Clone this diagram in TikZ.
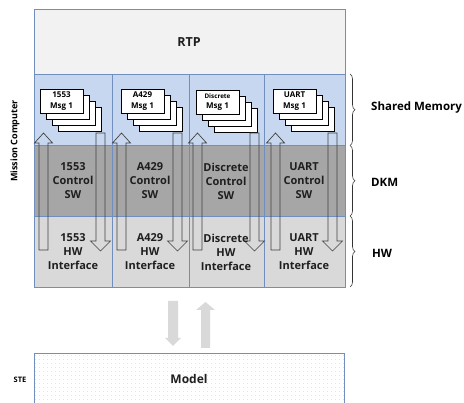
\documentclass[tikz,border=0pt]{standalone}
\usepackage{fontspec}
\setmainfont{Open Sans}
\usetikzlibrary{decorations.pathreplacing,patterns.meta}
\definecolor{mcblue}{RGB}{112,142,190}
\definecolor{rtpfill}{RGB}{242,242,242}
\definecolor{shmfill}{RGB}{198,215,239}
\definecolor{dkmfill}{RGB}{166,166,166}
\definecolor{hwfill}{RGB}{217,217,217}
\definecolor{bigarr}{RGB}{217,217,217}
\definecolor{dotblue}{RGB}{170,195,228}
\tikzset{
  mcline/.style={draw=mcblue,line width=0.8pt},
  msgbox/.style={draw=black,fill=white,line width=0.7pt},
  harrow/.style={draw=black!75,line width=0.7pt},
  bigarrow/.style={fill=bigarr},
  bracestyle/.style={draw=black!80,line width=0.6pt,decorate,decoration={brace,amplitude=5pt}},
  celltext/.style={font=\bfseries\fontsize{11}{14}\selectfont,align=center,text=black!88,inner sep=0pt},
  msgtext/.style={font=\bfseries\fontsize{8}{10.5}\selectfont,align=center,inner sep=0pt},
  sidetext/.style={font=\bfseries\fontsize{11.5}{13}\selectfont,anchor=west,inner sep=0pt},
}
\newcommand\msgstack[4]{%
  \foreach \k in {3,2,1,0} {\draw[msgbox] ({#1+6*\k},{#2+6*\k}) rectangle ++(43,24);}
  \node[msgtext] (#4) at ({#1+21.5},{#2+12}) {#3};
}
\newcommand\uparr[1]{%
  \draw[harrow] (#1,250) -- (#1,143) -- ({#1-4.5},143) -- ({#1+4.5},133) -- ({#1+13.5},143) -- ({#1+9},143) -- ({#1+9},250) -- cycle;
}
\newcommand\dnarr[1]{%
  \draw[harrow] (#1,133) -- (#1,241) -- ({#1-5.5},241) -- ({#1+4.5},251) -- ({#1+14.5},241) -- ({#1+9},241) -- ({#1+9},133) -- cycle;
}
\begin{document}
\begin{tikzpicture}[x=1pt,y=-1pt]
\useasboundingbox (0,0) rectangle (464,403);
% rows
\fill[rtpfill] (34,9) rectangle (345,74);
\fill[shmfill] (34,74) rectangle (345,145);
\fill[dkmfill] (34,145) rectangle (345,216);
\fill[hwfill] (34,216) rectangle (345,287);
\draw[mcline,line width=0.5pt] (34,145) -- (345,145);
\draw[mcline,line width=0.5pt] (34,216) -- (345,216);
\draw[mcline] (34,74) -- (345,74);
\foreach \cx in {112,189,264} {\draw[mcline] (\cx,74) -- (\cx,287);}
\draw[mcline] (34,9) rectangle (345,287);
% message stacks
\msgstack{40}{89}{1553\\Msg 1}{m1}
\msgstack{121}{89}{A429\\Msg 1}{m2}
\msgstack{196}{90}{{\fontsize{6.3}{8}\selectfont Discrete}\\Msg 1}{m3}
\msgstack{273}{89}{UART\\Msg 1}{m4}
% hollow arrows
\uparr{39}\dnarr{96}
\uparr{117}\dnarr{173}
\uparr{193}\dnarr{250}
\uparr{271}\dnarr{328}
% texts
\node[celltext,font=\bfseries\fontsize{12.5}{14}\selectfont] (rtp) at (189,42) {RTP};
\node[celltext] (c1) at (73,181) {1553\\Control\\SW};
\node[celltext] (c2) at (150,181) {A429\\Control\\SW};
\node[celltext] (c3) at (226,181) {Discrete\\Control\\SW};
\node[celltext] (c4) at (304,181) {UART\\Control\\SW};
\node[celltext] (h1) at (73,252) {1553\\HW\\Interface};
\node[celltext] (h2) at (150,252) {A429\\HW\\Interface};
\node[celltext] (h3) at (226,252) {Discrete\\HW\\Interface};
\node[celltext] (h4) at (304,252) {UART\\HW\\Interface};
% braces
\coordinate (b0) at (350,74);
\coordinate (b1) at (350,145.5);
\coordinate (b2) at (350,216);
\coordinate (b3) at (350,287);
\draw[bracestyle] (b0) -- (b1);
\draw[bracestyle] (b1) -- (b2);
\draw[bracestyle] (b2) -- (b3);
\node[sidetext] (shm) at (371,108) {Shared Memory};
\node[sidetext] (dkm) at (371,182) {DKM};
\node[sidetext] (hw) at (372,253) {HW};
\node[font=\bfseries\fontsize{9}{11}\selectfont,rotate=90,inner sep=0pt] (mc) at (15,141) {Mission Computer};
% big arrows
\fill[bigarrow] (168,301) -- (168,338) -- (165,338) -- (173,346) -- (181,338) -- (178,338) -- (178,301) -- cycle;
\fill[bigarrow] (201,348) -- (201,310) -- (196,310) -- (205.5,302) -- (215,310) -- (210,310) -- (210,348) -- cycle;
% model
\fill[white] (34,353) rectangle (344,404);
\fill[pattern={Dots[distance=4pt,radius=0.35pt]},pattern color=dotblue] (34,353) rectangle (344,404);
\draw[mcline] (34,404) -- (34,353) -- (344,353) -- (344,404);
\node[celltext,font=\bfseries\fontsize{12}{14}\selectfont] (model) at (189,379) {Model};
\node[font=\bfseries\fontsize{7.5}{9}\selectfont,inner sep=0pt] (ste) at (20,380) {STE};
\end{tikzpicture}
\end{document}
